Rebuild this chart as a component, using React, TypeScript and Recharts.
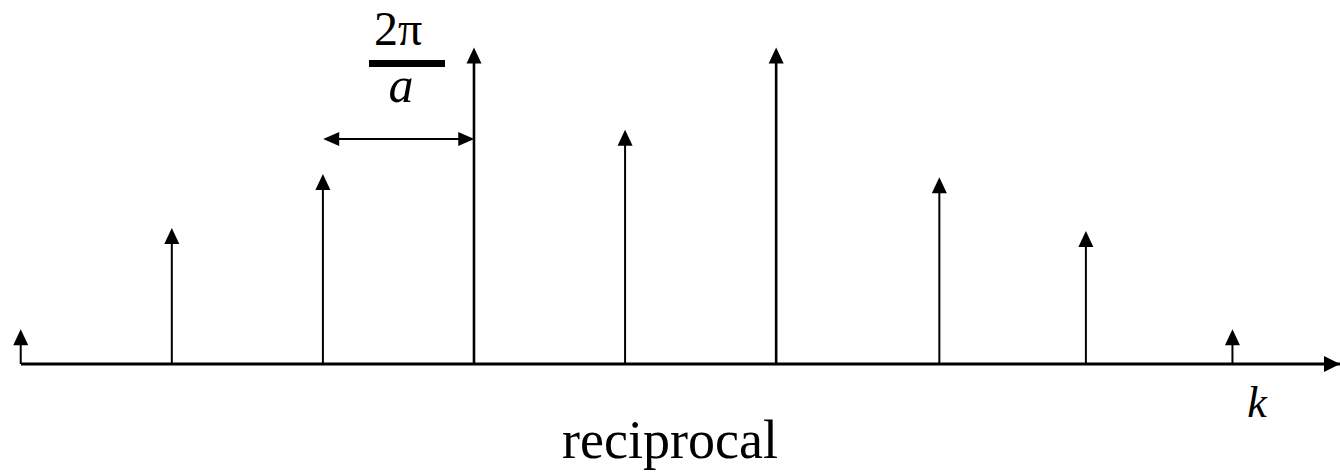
import {
  Bar,
  ComposedChart,
  ReferenceDot,
  ReferenceLine,
  XAxis,
  YAxis,
} from 'recharts';

// k positions in units of 2π/a, measured from the middle stem
const kValues = [-4, -3, -2, -1, 0, 1, 2.08, 3.05, 4.02];
// stem heights, tallest = 1
const amplitudes = [0.11, 0.43, 0.6, 1.0, 0.74, 1.0, 0.59, 0.42, 0.11];

const data = kValues.map((k, i) => ({ k, amp: amplitudes[i] }));

const INK = '#000';
const serif = { fontFamily: '"Liberation Serif", "Times New Roman", serif' };

function Stem(props: any) {
  const { x, y, width, height } = props;
  const cx = x + width / 2;
  const base = y + height;
  const sw = height > 250 ? 2.6 : 2;
  return (
    <g>
      <line x1={cx} y1={y + 12} x2={cx} y2={base} stroke={INK} strokeWidth={sw} />
      <polygon points={`${cx},${y} ${cx - 7.5},${y + 16} ${cx + 7.5},${y + 16}`} fill={INK} />
    </g>
  );
}

function AxisHead(props: any) {
  const { cx, cy } = props;
  return <polygon points={`${cx},${cy} ${cx - 16},${cy - 8} ${cx - 16},${cy + 8}`} fill={INK} />;
}

function Spacing(props: any) {
  const { x1, y1, x2 } = props;
  return (
    <g>
      <line x1={x1 + 10} y1={y1} x2={x2 - 10} y2={y1} stroke={INK} strokeWidth={2} />
      <polygon points={`${x1},${y1} ${x1 + 16},${y1 - 7} ${x1 + 16},${y1 + 7}`} fill={INK} />
      <polygon points={`${x2},${y1} ${x2 - 16},${y1 - 7} ${x2 - 16},${y1 + 7}`} fill={INK} />
    </g>
  );
}

export default function App() {
  return (
    <div style={{ position: 'absolute', left: 0, top: 0, background: '#fff' }}>
      <ComposedChart
        width={1340}
        height={472}
        data={data}
        margin={{ top: 0, right: 0, left: 21, bottom: 108 }}
      >
        <XAxis dataKey="k" type="number" domain={[-4, 4.73]} hide />
        <YAxis domain={[0, 1.15]} hide />
        <ReferenceLine y={0} stroke={INK} strokeWidth={3} />
        <ReferenceDot x={4.73} y={0} r={0} shape={<AxisHead />} ifOverflow="visible" />
        <ReferenceLine
          segment={[{ x: -2, y: 0.711 }, { x: -1, y: 0.711 }]}
          shape={<Spacing />}
          ifOverflow="visible"
        />
        <Bar dataKey="amp" barSize={16} shape={<Stem />} isAnimationActive={false} />
        <text x={398} y={45} textAnchor="middle" style={serif} fontSize={48}>2π</text>
        <rect x={369} y={60} width={76} height={7} fill={INK} />
        <text x={401} y={102} textAnchor="middle" style={serif} fontSize={50} fontStyle="italic">a</text>
        <text x={1257} y={417} textAnchor="middle" style={serif} fontSize={44} fontStyle="italic">k</text>
        <text x={670} y={458} textAnchor="middle" style={serif} fontSize={54}>reciprocal</text>
      </ComposedChart>
    </div>
  );
}
